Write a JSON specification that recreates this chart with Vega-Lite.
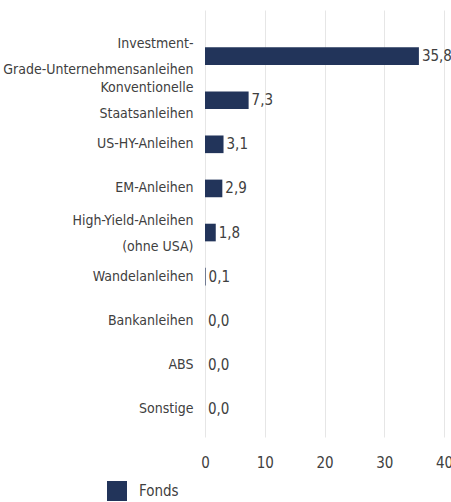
{
  "$schema": "https://vega.github.io/schema/vega-lite/v6.json",
  "width": 239,
  "height": 427,
  "autosize": {"type": "none"},
  "padding": {"left": 205, "top": 10, "right": 7, "bottom": 65},
  "background": "white",
  "config": {
    "view": {"stroke": null},
    "font": "DejaVu Sans Condensed, Roboto Condensed, Roboto",
    "locale": {"number": {"decimal": ",", "thousands": ".", "grouping": [3], "currency": ["", " €"]}}
  },
  "data": {
    "values": [
      {"kategorie": "Investment-|Grade-Unternehmensanleihen", "wert": 35.8, "serie": "Fonds"},
      {"kategorie": "Konventionelle|Staatsanleihen", "wert": 7.3, "serie": "Fonds"},
      {"kategorie": "US-HY-Anleihen", "wert": 3.1, "serie": "Fonds"},
      {"kategorie": "EM-Anleihen", "wert": 2.9, "serie": "Fonds"},
      {"kategorie": "High-Yield-Anleihen|(ohne USA)", "wert": 1.8, "serie": "Fonds"},
      {"kategorie": "Wandelanleihen", "wert": 0.1, "serie": "Fonds"},
      {"kategorie": "Bankanleihen", "wert": 0.0, "serie": "Fonds"},
      {"kategorie": "ABS", "wert": 0.0, "serie": "Fonds"},
      {"kategorie": "Sonstige", "wert": 0.0, "serie": "Fonds"}
    ]
  },
  "encoding": {
    "y": {
      "field": "kategorie",
      "type": "nominal",
      "sort": null,
      "scale": {"paddingInner": 0.6, "paddingOuter": 0.64, "align": 0.66},
      "axis": {
        "title": null,
        "ticks": false,
        "domain": false,
        "labelPadding": 12,
        "labelFontSize": 14,
        "labelColor": "#404040",
        "labelLineHeight": 26,
        "labelLimit": 300,
        "labelExpr": "split(datum.value, '|')",
        "labelOffset": {"condition": {"test": "indexof(datum.value, '|') >= 0", "value": -12}, "value": 0}
      }
    },
    "x": {
      "field": "wert",
      "type": "quantitative",
      "scale": {"domain": [0, 40], "nice": false},
      "axis": {
        "title": null,
        "values": [0, 10, 20, 30, 40],
        "ticks": false,
        "domain": false,
        "grid": true,
        "gridColor": "#e6e6e6",
        "gridWidth": 1,
        "labelPadding": 18,
        "labelFontSize": 15,
        "labelColor": "#404040",
        "labelFlush": false,
        "format": "d"
      }
    }
  },
  "layer": [
    {
      "mark": {"type": "bar"},
      "encoding": {
        "color": {
          "field": "serie",
          "type": "nominal",
          "scale": {"range": ["#22345a"]},
          "legend": {
            "title": null,
            "orient": "none",
            "legendX": -98,
            "legendY": 471,
            "symbolType": "square",
            "symbolSize": 400,
            "symbolStrokeWidth": 0,
            "labelFontSize": 15,
            "labelColor": "#404040",
            "labelOffset": 12,
            "padding": 0
          }
        }
      }
    },
    {
      "mark": {"type": "text", "align": "left", "baseline": "middle", "dx": 3, "fontSize": 15, "color": "#404040"},
      "encoding": {
        "text": {"field": "wert", "type": "quantitative", "format": ".1f"}
      }
    }
  ]
}
